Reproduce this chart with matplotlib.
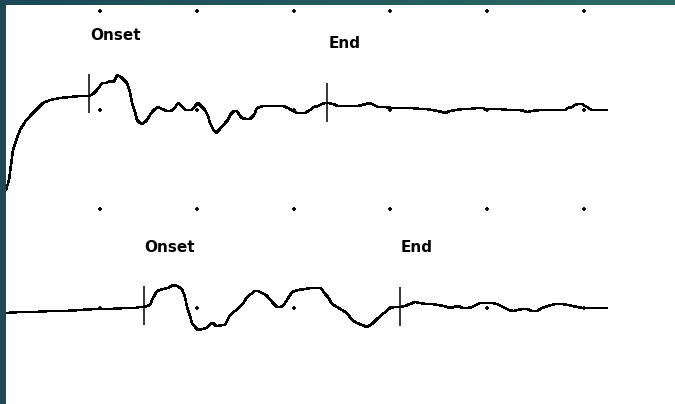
import numpy as np
import matplotlib.pyplot as plt

# traces (x, y in screen pixels, y down)
top_x = [6, 9, 13, 17, 20, 25, 30, 33, 38, 43, 50, 60, 70, 80, 86, 89, 93, 97, 100, 102,
         106, 110, 113, 115, 117, 121, 127, 130, 132, 135, 137, 140, 142, 145, 147, 150,
         152, 155, 158, 162, 167, 170, 173, 176, 178, 181, 185, 190, 192, 195, 198, 201,
         205, 208, 210, 213, 216, 220, 225, 228, 230, 234, 237, 240, 242, 246, 250, 254,
         257, 260, 263, 270, 277, 283, 288, 293, 297, 301, 305, 310, 314, 318, 322, 325,
         328, 333, 338, 345, 352, 358, 362, 366, 370, 374, 378, 385, 392, 400, 406, 412,
         420, 426, 432, 438, 442, 445, 450, 456, 463, 470, 477, 483, 486, 488, 492, 500,
         508, 515, 520, 524, 527, 532, 540, 547, 553, 560, 565, 568, 572, 575, 578, 582,
         585, 587, 590, 592, 598, 607]
top_y = [190, 180, 150, 138, 130, 122, 116, 113, 108, 103, 100, 98, 97, 96, 96, 96, 94, 90,
         86, 83, 83, 81, 82, 80, 75, 77, 83, 92, 103, 112, 120, 123, 124, 122, 120, 115,
         112, 109, 107, 109, 111, 111, 110, 106, 103, 105, 110, 110, 110, 106, 103, 106,
         110, 116, 123, 129, 133, 129, 123, 120, 115, 111, 111, 116, 118, 119, 119, 115,
         108, 107, 106, 106, 106, 106, 108, 111, 113, 113, 113, 110, 107, 106, 104, 103,
         103, 104, 106, 106, 106, 106, 105, 104, 103, 105, 107, 107, 108, 108, 108, 108,
         109, 109, 110, 111, 112, 113, 111, 110, 109, 109, 108, 108, 110, 109, 109, 109,
         110, 110, 110, 111, 112, 111, 110, 110, 110, 110, 110, 108, 107, 105, 104, 104,
         106, 107, 109, 110, 110, 110]

bot_x = [6, 20, 35, 50, 65, 80, 95, 110, 125, 135, 140, 144, 147, 150, 153, 157, 160,
         163, 168, 173, 177, 182, 185, 187, 190, 192, 195, 198, 202, 207, 210, 213, 216,
         218, 222, 225, 230, 235, 240, 244, 247, 251, 255, 258, 262, 266, 268, 272, 277,
         280, 283, 287, 292, 298, 305, 311, 317, 321, 325, 328, 332, 337, 342, 347, 352,
         357, 362, 367, 372, 378, 384, 390, 395, 400, 405, 410, 415, 420, 426, 432, 438,
         444, 450, 454, 458, 463, 468, 472, 476, 480, 486, 492, 497, 501, 505, 509, 513,
         518, 522, 527, 532, 537, 542, 548, 555, 562, 568, 573, 577, 583, 590, 598, 607]
bot_y = [313, 312, 312, 311, 311, 310, 309, 309, 308, 308, 307, 307, 306, 305, 298, 291,
         290, 289, 288, 285, 286, 289, 297, 307, 316, 323, 327, 330, 329, 328, 324, 323,
         326, 326, 325, 325, 315, 311, 307, 302, 297, 294, 291, 291, 293, 295, 297, 302,
         307, 307, 306, 300, 292, 290, 289, 288, 288, 288, 294, 297, 304, 307, 310, 313,
         320, 323, 325, 327, 324, 318, 313, 308, 307, 307, 306, 304, 302, 303, 304, 304,
         305, 306, 308, 307, 306, 308, 308, 307, 305, 303, 303, 303, 304, 306, 308, 310,
         311, 310, 309, 309, 311, 311, 308, 306, 304, 304, 305, 306, 307, 308, 308, 308,
         308]

# vertical cursor marks: (x, y_top, y_bottom)
marks_x = [89, 327, 144, 400]
marks_y0 = [74, 83, 286, 287]
marks_y1 = [113, 122, 325, 326]

labels = ["Onset", "End", "Onset", "End"]
label_x = [116, 345, 170, 417]
label_y = [35, 43, 248, 247]

grid_x = [100, 197, 294, 390, 487, 584]
grid_y = [11, 110, 209, 308]

W, H = 675, 404
fig = plt.figure(figsize=(W / 100, H / 100), dpi=100)
fig.patch.set_facecolor("#1c4b57")

# teal title-bar gradient along the top
grad = np.linspace(0, 1, 256).reshape(1, -1)
bar = fig.add_axes([0, 1 - 5 / H, 1, 5 / H])
bar.imshow(grad, aspect="auto", cmap=plt.matplotlib.colors.LinearSegmentedColormap.from_list(
    "bar", ["#1b4957", "#2c6a68"]))
bar.axis("off")

ax = fig.add_axes([6 / W, 0, (W - 6) / W, (H - 5) / H])
ax.set_xlim(6, W)
ax.set_ylim(H, 5)
ax.axis("off")
ax.add_patch(plt.Rectangle((6, 5), W, H, color="white", zorder=0))

gx, gy = np.meshgrid(grid_x, grid_y)
ax.plot(gx.ravel(), gy.ravel(), "+", color="black", ms=3.5, mew=1.3, zorder=1)

# old screen trace look: thin, not smoothed
ax.plot(top_x, top_y, color="black", lw=1.1, antialiased=False, zorder=2)
ax.plot(bot_x, bot_y, color="black", lw=1.1, antialiased=False, zorder=2)
ax.vlines(marks_x, marks_y0, marks_y1, color="black", lw=1.1, zorder=3)

for t, x, y in zip(labels, label_x, label_y):
    ax.text(x, y, t, ha="center", va="center", fontsize=11, fontweight="bold",
            family="DejaVu Sans", color="black")

fig.savefig("out.png", dpi=100, facecolor=fig.get_facecolor())
